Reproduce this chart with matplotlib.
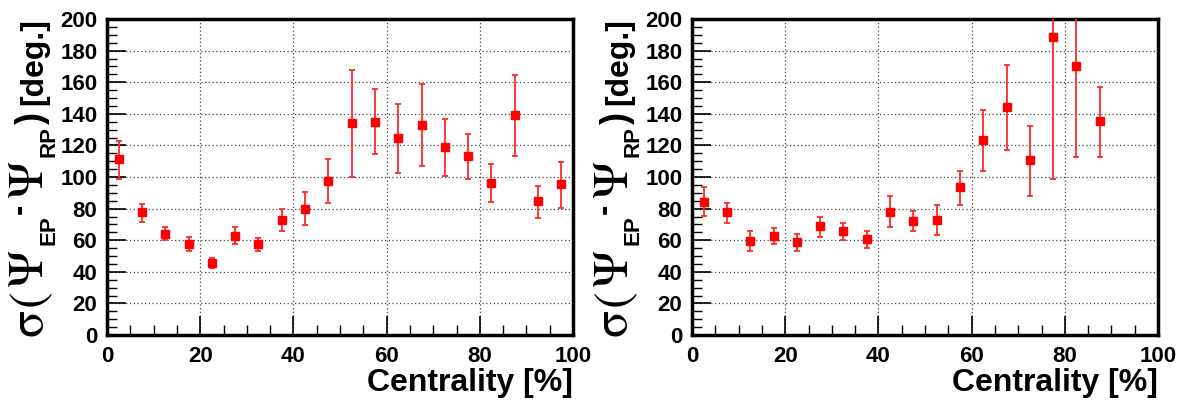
import matplotlib
matplotlib.use("Agg")
import matplotlib.pyplot as plt
from matplotlib.ticker import MultipleLocator
import numpy as np

# ---- data ----
cent_left = [2.5, 7.5, 12.5, 17.5, 22.5, 27.5, 32.5, 37.5, 42.5, 47.5,
             52.5, 57.5, 62.5, 67.5, 72.5, 77.5, 82.5, 87.5, 92.5, 97.5]
sig_left = [111.2, 77.7, 63.9, 57.4, 45.8, 62.9, 57.4, 72.8, 79.9, 97.7,
            134.4, 134.8, 124.9, 133.1, 119.0, 113.1, 96.4, 139.0, 84.8, 95.4]
hi_left = [123.0, 82.9, 68.2, 62.2, 48.9, 68.2, 61.6, 79.9, 90.5, 111.6,
           167.7, 155.5, 146.4, 158.9, 136.5, 127.0, 108.2, 164.4, 94.5, 109.3]
lo_left = [98.7, 71.5, 59.9, 53.4, 42.2, 57.4, 53.4, 65.8, 69.4, 83.3,
           100.0, 114.7, 102.3, 107.2, 100.4, 98.7, 84.0, 113.1, 73.8, 80.4]

cent_right = [2.5, 7.5, 12.5, 17.5, 22.5, 27.5, 32.5, 37.5, 42.5, 47.5,
              52.5, 57.5, 62.5, 67.5, 72.5, 77.5, 82.5, 87.5]
sig_right = [84.2, 77.7, 59.3, 62.9, 58.7, 68.8, 65.8, 61.0, 78.0, 72.3,
             72.8, 93.5, 123.4, 144.3, 110.6, 188.4, 170.3, 135.4]
hi_right = [93.5, 83.7, 65.6, 67.9, 63.9, 74.9, 71.1, 66.0, 88.2, 78.7,
            82.3, 104.0, 142.4, 170.7, 132.3, 280.0, 230.0, 157.2]
lo_right = [75.3, 71.1, 53.4, 57.4, 53.0, 62.2, 60.1, 55.0, 68.2, 65.8,
            63.3, 82.3, 104.0, 116.9, 88.2, 98.7, 112.9, 112.9]

xticks = [0, 20, 40, 60, 80, 100]
yticks = [0, 20, 40, 60, 80, 100, 120, 140, 160, 180, 200]
xlabel_text = "Centrality [%]"

plt.rcParams['font.family'] = ['Liberation Sans', 'DejaVu Sans']
plt.rcParams['font.weight'] = 'bold'

W, H = 1182, 408
fig = plt.figure(figsize=(W / 100, H / 100), dpi=100)
boxes = [(107, 573), (692, 1158)]
top, bot = 19, 335

SERIF = ['STIXGeneral', 'Liberation Serif', 'DejaVu Serif']
SANS = ['Liberation Sans', 'DejaVu Sans']
# (text, family, size pt, weight, shift below baseline px, gap after px)
ylabel_pieces = [
    ("σ", SERIF, 36, 'normal', 0, 2),
    ("(", SERIF, 36, 'normal', 0, 4),
    ("Ψ", SERIF, 36, 'normal', 0, 3),
    ("EP", SANS, 16, 'bold', 12, 1),
    ("-", SANS, 22, 'bold', -14, 7),
    ("Ψ", SERIF, 36, 'normal', 0, 3),
    ("RP", SANS, 16, 'bold', 12, 2),
    (")", SANS, 26, 'bold', 0, 7),
    ("[deg.]", SANS, 23, 'bold', 0, 0),
]

renderer = fig.canvas.get_renderer()


def piece_width(s, fam, size, weight):
    t = fig.text(0, 0, s, family=fam, fontsize=size, fontweight=weight)
    w = t.get_window_extent(renderer).width
    t.remove()
    return w


def draw_ylabel(x_base, y_top):
    widths = [piece_width(p[0], p[1], p[2], p[3]) for p in ylabel_pieces]
    total = sum(widths) + sum(p[5] for p in ylabel_pieces)
    y = y_top - total
    for (s, fam, size, weight, shift, gap), w in zip(ylabel_pieces, widths):
        fig.text((x_base + shift) / W, y / H, s, family=fam, fontsize=size,
                 fontweight=weight, rotation=90, rotation_mode='anchor',
                 ha='left', va='baseline')
        y += w + gap


for (xl, xr), cx, cy, ch, cl in [(boxes[0], cent_left, sig_left, hi_left, lo_left),
                                  (boxes[1], cent_right, sig_right, hi_right, lo_right)]:
    ax = fig.add_axes([xl / W, 1 - bot / H, (xr - xl) / W, (bot - top) / H])
    cx = np.array(cx); cy = np.array(cy)
    yerr = np.vstack([cy - np.array(cl), np.array(ch) - cy])
    ax.errorbar(cx, cy, yerr=yerr, fmt='s', color='#ff0000', ecolor='#ff2a2a',
                markersize=6, elinewidth=1.3, capsize=2.5, capthick=1.3, zorder=3)
    ax.set_xlim(0, 100)
    ax.set_ylim(0, 200)
    ax.set_xticks(xticks)
    ax.set_yticks(yticks)
    ax.xaxis.set_minor_locator(MultipleLocator(5))
    ax.yaxis.set_minor_locator(MultipleLocator(5))
    ax.tick_params(which='major', direction='in', length=14, width=1.2,
                   labelsize=16, top=False, right=False)
    ax.tick_params(axis='x', which='major', pad=8)
    ax.tick_params(axis='y', which='major', pad=7)
    ax.tick_params(which='minor', direction='in', length=7, width=1.0,
                   top=False, right=False)
    for lbl in ax.get_xticklabels() + ax.get_yticklabels():
        lbl.set_fontweight('bold')
    ax.grid(True, which='major', linestyle=(0, (1, 2)), color='#444444', linewidth=0.9)
    for s in ax.spines.values():
        s.set_linewidth(2.5)
    ax.set_xlabel(xlabel_text, fontsize=23, fontweight='bold', loc='right', labelpad=1)
    draw_ylabel(xl - 65, H - 18)

fig.savefig("out.png", dpi=100)
